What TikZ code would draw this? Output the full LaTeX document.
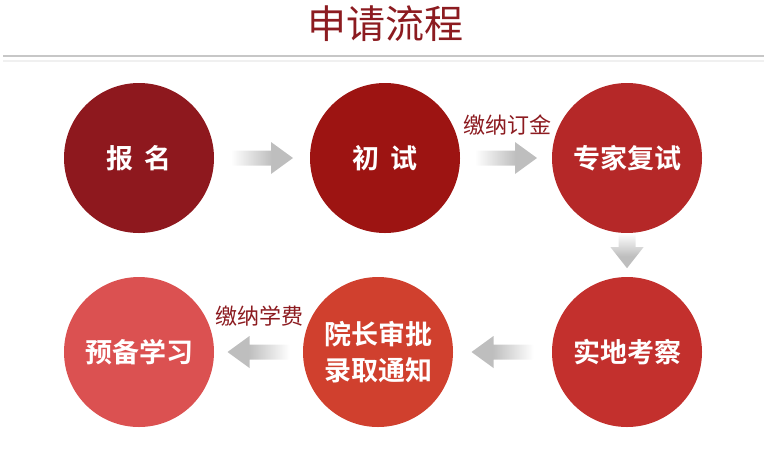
\documentclass[tikz,border=0pt]{standalone}
\usepackage{fontspec}
\newfontfamily\cjk{Noto Sans CJK SC}[BoldFont={Noto Sans CJK SC Bold}]
\usetikzlibrary{calc}
\definecolor{cA}{HTML}{8E181E}
\definecolor{cB}{HTML}{9D1412}
\definecolor{cC}{HTML}{B52828}
\definecolor{cD}{HTML}{C3302D}
\definecolor{cE}{HTML}{D0402E}
\definecolor{cF}{HTML}{DB5151}
\definecolor{titlered}{HTML}{8C1B20}
\definecolor{arrowgray}{HTML}{BEBEBE}
\pgfdeclarehorizontalshading{arrowfade}{100bp}{color(0bp)=(white); color(25bp)=(white); color(58bp)=(arrowgray); color(100bp)=(arrowgray)}
\tikzset{
  circ/.style={circle, minimum size=150pt, inner sep=0pt, text=white, font=\cjk\bfseries\fontsize{27}{36}\selectfont, align=center},
  lbl/.style={text=titlered, font=\cjk\fontsize{22}{26}\selectfont, inner sep=0pt},
  blockarrow/.style={shading=arrowfade, draw=none},
}
\begin{document}
\begin{tikzpicture}[x=1pt,y=-1pt]
\useasboundingbox (0,0) rectangle (776,467);
% title
\node[text=titlered, font=\cjk\fontsize{39}{42}\selectfont, inner sep=0pt] (title) at (385,24) {申请流程};
\coordinate (l1) at (3,56);
\coordinate (r1) at (764,56);
\coordinate (l2) at (3,60.5);
\coordinate (r2) at (764,60.5);
\draw[color=black!22, line width=1.5pt] (l1) -- (r1);
\draw[color=black!6, line width=2pt] (l2) -- (r2);
% circles
\node[circ, fill=cA] (a) at (139,158) {报\hspace{0.4em}名};
\node[circ, fill=cB] (b) at (385,158) {初\hspace{0.4em}试};
\node[circ, fill=cC] (c) at (627,158) {专家复试};
\node[circ, fill=cD] (d) at (627,352) {实地考察};
\node[circ, fill=cE] (e) at (378,352) {院长审批\\录取通知};
\node[circ, fill=cF] (f) at (139,352) {预备学习};
% labels
\node[lbl] (la) at (507,125) {缴纳订金};
\node[lbl] (lb) at (259,316) {缴纳学费};
% arrows right
\coordinate (m1) at ($(a.east)!0.5!(b.west)$);
\coordinate (m2) at ($(b.east)!0.5!(c.west)$);
\foreach \m in {m1,m2}{
  \shade[blockarrow, shading angle=0] ($(\m)+(-31,-7.5)$) -- ($(\m)+(9,-7.5)$) -- ($(\m)+(9,-16)$) -- ($(\m)+(31,0)$) -- ($(\m)+(9,16)$) -- ($(\m)+(9,7.5)$) -- ($(\m)+(-31,7.5)$) -- cycle;
}
% arrows left
\coordinate (m3) at ($(d.west)!0.5!(e.east)$);
\coordinate (m4) at ($(e.west)!0.5!(f.east)$);
\foreach \m in {m3,m4}{
  \shade[blockarrow, shading angle=180] ($(\m)+(31,-7.5)$) -- ($(\m)+(-9,-7.5)$) -- ($(\m)+(-9,-16)$) -- ($(\m)+(-31,0)$) -- ($(\m)+(-9,16)$) -- ($(\m)+(-9,7.5)$) -- ($(\m)+(31,7.5)$) -- cycle;
}
% arrow down
\coordinate (m5) at ($(c.south)+(0,17.5)$);
\shade[blockarrow, shading angle=270] ($(m5)+(-8.5,-17.5)$) -- ($(m5)+(-8.5,-3.5)$) -- ($(m5)+(-16.5,-3.5)$) -- ($(m5)+(0,17.5)$) -- ($(m5)+(16.5,-3.5)$) -- ($(m5)+(8.5,-3.5)$) -- ($(m5)+(8.5,-17.5)$) -- cycle;
\end{tikzpicture}
\end{document}
